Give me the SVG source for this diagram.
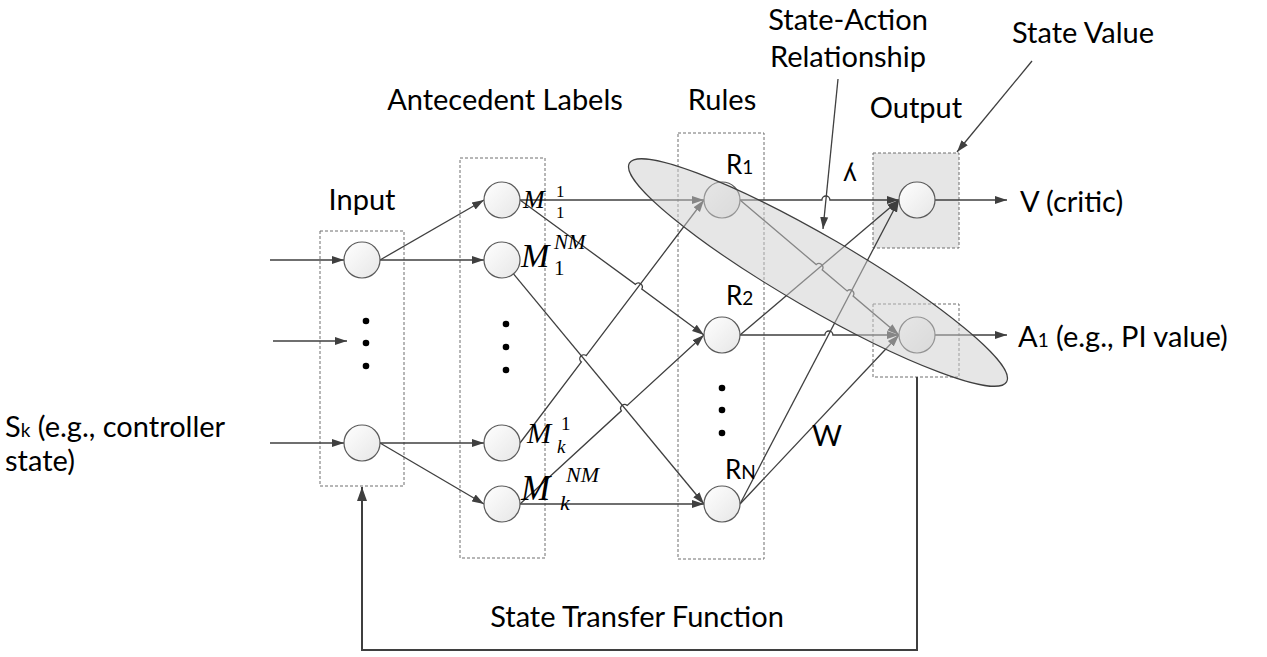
<svg xmlns="http://www.w3.org/2000/svg" width="1267" height="657" viewBox="0 0 1267 657">
  <style>
    .lbl { font-family: Lato, "Open Sans", sans-serif; font-size: 29px; fill: #000; }
    .rl { font-size: 26px; }
    .sub { font-size: 19px; }
    .math { font-family: "Liberation Serif", serif; font-style: italic; fill: #000; }
    .up { font-style: normal; }
    .box { fill: none; stroke: #6e6e6e; stroke-width: 1; stroke-dasharray: 3 2; }
    .node { fill: url(#nodeFill); stroke: #5a5a5a; stroke-width: 1.2; }
    .edge { fill: none; stroke: #3f3f3f; stroke-width: 1.3; }
    .arr { marker-end: url(#ah); }
    .dot { fill: #000; }
  </style>
  <defs>
    <linearGradient id="nodeFill" x1="0" y1="0" x2="1" y2="1">
      <stop offset="0" stop-color="#ffffff"/>
      <stop offset="1" stop-color="#e6e6e6"/>
    </linearGradient>
    <marker id="ah" viewBox="0 0 12 10" refX="12" refY="5" markerWidth="12" markerHeight="10" markerUnits="userSpaceOnUse" orient="auto">
      <path d="M0,1 L12,5 L0,9 z" fill="#3f3f3f"/>
    </marker>
    <marker id="ahBig" viewBox="0 0 14 12" refX="14" refY="6" markerWidth="14" markerHeight="12" markerUnits="userSpaceOnUse" orient="auto">
      <path d="M0,1 L14,6 L0,11 z" fill="#3f3f3f"/>
    </marker>
  </defs>

  <!-- layer containers -->
  <rect x="320" y="231" width="84" height="255" class="box"/>
  <rect x="460" y="158" width="85" height="400" class="box"/>
  <rect x="678" y="133" width="86" height="426" class="box"/>
  <rect x="873" y="153" width="86" height="95" class="box" style="fill:#e6e6e6"/>
  <rect x="873" y="304" width="86" height="73" class="box"/>

  <!-- connectors -->
  <g id="connectors">
    <!-- external inputs -->
    <path class="edge arr" d="M270,260 L344,260"/>
    <path class="edge arr" d="M273,341 L347,341"/>
    <path class="edge arr" d="M270,443 L344,443"/>
    <!-- input -> antecedent labels -->
    <path class="edge arr" d="M380,260 L484,200"/>
    <path class="edge arr" d="M380,260 L484,260"/>
    <path class="edge arr" d="M380,443 L484,443"/>
    <path class="edge arr" d="M380,443 L484,504"/>
    <!-- antecedent labels -> rules -->
    <path class="edge arr" d="M520,200 L704,200"/>
    <path class="edge arr" d="M520,200 L635.4,284.3 A4,4 0 0 1 641.8,289 L704,335"/>
    <path class="edge arr" d="M513.5,273.9 L704,504"/>
    <path class="edge arr" d="M520,443 L581.4,362 A4,4 0 0 1 586.2,355.6 L704,200"/>
    <path class="edge arr" d="M520,504 L621.4,410.8 A4,4 0 0 1 627.2,405.4 L704,335"/>
    <path class="edge arr" d="M520,504 L704,504"/>
    <!-- rules -> outputs -->
    <path class="edge arr" d="M740,200 L821.9,200 A4,4 0 0 1 829.9,200 L899,200"/>
    <path class="edge arr" d="M740,200 L816.2,264.6 A4,4 0 0 1 822.2,269.8 L847.1,290.9 A4,4 0 0 1 853.1,296.1 L899,335"/>
    <path class="edge arr" d="M740,335 L899,200"/>
    <path class="edge arr" d="M740,335 L824.9,335 A4,4 0 0 1 832.9,335 L899,335"/>
    <path class="edge arr" d="M740,504 L899,200"/>
    <path class="edge arr" d="M740,504 L899,335"/>
    <!-- outputs -->
    <path class="edge arr" d="M935,200 L1007,200"/>
    <path class="edge arr" d="M935,335 L1007,335"/>
    <!-- state transfer feedback -->
    <path class="edge" style="stroke-width:2;marker-end:url(#ahBig)" d="M917,377 L917,650 L362,650 L362,487"/>
  </g>

  <!-- input layer -->
  <g id="input-1"><circle class="node" cx="362" cy="260" r="18"/></g>
  <g id="input-k"><circle class="node" cx="362" cy="443" r="18"/></g>
  <g id="input-dots">
    <circle class="dot" cx="366" cy="321" r="3.3"/>
    <circle class="dot" cx="366" cy="343" r="3.3"/>
    <circle class="dot" cx="366" cy="366" r="3.3"/>
  </g>

  <!-- antecedent labels -->
  <g id="m-1-1">
    <circle class="node" cx="502" cy="200" r="18"/>
    <text class="math" x="523" y="208" font-size="26">M</text>
    <text class="math up" x="556" y="197" font-size="17">1</text>
    <text class="math up" x="556" y="218" font-size="17">1</text>
  </g>
  <g id="m-1-nm">
    <circle class="node" cx="502" cy="260" r="18"/>
    <text class="math" x="521" y="267" font-size="34">M</text>
    <text class="math" x="554" y="249" font-size="21">NM</text>
    <text class="math up" x="554" y="275" font-size="21">1</text>
  </g>
  <g id="ante-dots">
    <circle class="dot" cx="506" cy="324" r="3.3"/>
    <circle class="dot" cx="506" cy="347" r="3.3"/>
    <circle class="dot" cx="506" cy="370" r="3.3"/>
  </g>
  <g id="m-k-1">
    <circle class="node" cx="502" cy="443" r="18"/>
    <text class="math" x="527" y="443" font-size="29">M</text>
    <text class="math up" x="561" y="430" font-size="19">1</text>
    <text class="math" x="557" y="453" font-size="19">k</text>
  </g>
  <g id="m-k-nm">
    <circle class="node" cx="502" cy="504" r="18"/>
    <text class="math" x="521" y="500" font-size="35">M</text>
    <text class="math" x="566" y="482" font-size="22">NM</text>
    <text class="math" x="560" y="510" font-size="22">k</text>
  </g>

  <!-- rules -->
  <g id="rule-1">
    <circle class="node" cx="722" cy="200" r="18"/>
    <text class="lbl rl" x="726" y="174">R<tspan class="sub">1</tspan></text>
  </g>
  <g id="rule-2">
    <circle class="node" cx="722" cy="335" r="18"/>
    <text class="lbl rl" x="726" y="305">R<tspan class="sub">2</tspan></text>
  </g>
  <g id="rule-dots">
    <circle class="dot" cx="722" cy="388" r="3.3"/>
    <circle class="dot" cx="722" cy="410" r="3.3"/>
    <circle class="dot" cx="722" cy="433" r="3.3"/>
  </g>
  <g id="rule-n">
    <circle class="node" cx="722" cy="504" r="18"/>
    <text class="lbl rl" x="725" y="479">R<tspan class="sub">N</tspan></text>
  </g>

  <!-- outputs -->
  <g id="out-v"><circle class="node" cx="917" cy="200" r="18"/></g>
  <g id="out-a"><circle class="node" cx="917" cy="335" r="18"/></g>

  <!-- state-action relationship region -->
  <g id="state-action">
    <ellipse cx="818" cy="272.5" rx="218" ry="36" transform="rotate(30.1 818 272.5)" fill="#cecece" fill-opacity="0.5" stroke="#3f3f3f" stroke-width="1.2"/>
  </g>

  <!-- annotation pointers -->
  <g id="pointers">
    <path class="edge arr" d="M838,79 L823,229"/>
    <path class="edge arr" d="M1032,61 L957,152"/>
  </g>

  <!-- labels -->
  <g id="labels">
    <text class="lbl" x="362" y="210" text-anchor="middle">Input</text>
    <text class="lbl" x="505" y="110" text-anchor="middle">Antecedent Labels</text>
    <text class="lbl" x="722" y="110" text-anchor="middle">Rules</text>
    <text class="lbl" x="916" y="118" text-anchor="middle">Output</text>
    <text class="lbl" x="848" y="30" text-anchor="middle">State-Action</text>
    <text class="lbl" x="848" y="67" text-anchor="middle">Relationship</text>
    <text class="lbl" x="1012" y="43">State Value</text>
    <text class="lbl rl" x="850" y="181" text-anchor="middle">ʎ</text>
    <text class="lbl" x="1020" y="212">V (critic)</text>
    <text class="lbl" x="1018" y="347">A<tspan class="sub">1</tspan> (e.g., PI value)</text>
    <text class="lbl" x="5" y="437">S<tspan class="sub">k</tspan> (e.g., controller</text>
    <text class="lbl" x="5" y="471">state)</text>
    <text class="lbl" x="812" y="446">W</text>
    <text class="lbl" x="637" y="627" text-anchor="middle">State Transfer Function</text>
  </g>
</svg>
